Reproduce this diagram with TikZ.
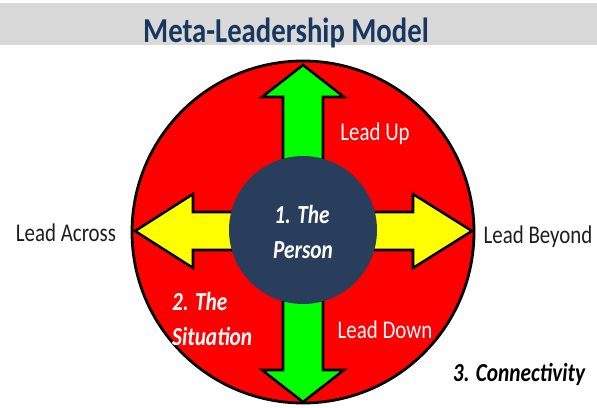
\documentclass[tikz,border=0pt]{standalone}
\usepackage{graphicx}
\usepackage{fontspec}
\setmainfont{Carlito}
\definecolor{bargray}{RGB}{217,217,217}
\definecolor{titleblue}{RGB}{23,55,94}
\definecolor{ringred}{RGB}{255,0,0}
\definecolor{upgreen}{RGB}{0,255,0}
\definecolor{sideyellow}{RGB}{255,255,0}
\definecolor{corenavy}{RGB}{41,62,92}
\definecolor{inkgray}{RGB}{30,30,30}
% condensed lettering
\newcommand{\cond}[1]{\scalebox{0.82}[1]{#1}}
\tikzset{
  arrowshape/.style={draw=black, line width=2.6pt, line join=miter},
  label/.style={font=\fontsize{25.5}{30}\selectfont, anchor=base, inner sep=0pt},
  whitelabel/.style={label, text=white},
  emph/.style={font=\fontsize{26}{30}\selectfont\bfseries\itshape, anchor=base, inner sep=0pt}
}
\begin{document}
\begin{tikzpicture}[x=1pt,y=-1pt]
\useasboundingbox (0,0) rectangle (597,407);

% title band
\fill[bargray] (0,3) rectangle (597,45);
\node[anchor=base, inner sep=0pt, text=titleblue,
      font=\fontsize{35}{38}\selectfont\bfseries] (title) at (286,42) {\cond{Meta-Leadership Model}};

% outer ring
\node[circle, draw=black, line width=2.8pt, fill=ringred, minimum size=342pt, inner sep=0pt] (ring) at (303,232) {};

% four arrows
\draw[arrowshape, fill=upgreen]
  (283,232) -- (283,97) -- (262,97) -- (303,65) -- (344,97) -- (323,97) -- (323,232) -- cycle;
\draw[arrowshape, fill=upgreen]
  (283,232) -- (283,370) -- (262,370) -- (303,402) -- (344,370) -- (323,370) -- (323,232) -- cycle;
\draw[arrowshape, fill=sideyellow]
  (303,212) -- (193,212) -- (193,194) -- (135,231) -- (193,268) -- (193,250) -- (303,250) -- cycle;
\draw[arrowshape, fill=sideyellow]
  (303,212) -- (413,212) -- (413,194) -- (472,231) -- (413,268) -- (413,250) -- (303,250) -- cycle;

% centre disc
\node[circle, fill=corenavy, minimum size=148pt, inner sep=0pt] (core) at (303,230) {};

% labels
\node[emph, text=white] (person1) at (302,223) {\cond{1. The}};
\node[emph, text=white] (person2) at (303,258) {\cond{Person}};
\node[emph, text=white, anchor=base west] (situation1) at (172,310) {\cond{2. The}};
\node[emph, text=white, anchor=base west] (situation2) at (172,345) {\cond{Situation}};
\node[whitelabel] (up) at (375,140) {\cond{Lead Up}};
\node[whitelabel] (down) at (385,338) {\cond{Lead Down}};
\node[label, text=inkgray] (across) at (66,241) {\cond{Lead Across}};
\node[label, text=inkgray] (beyond) at (538,243) {\cond{Lead Beyond}};
\node[emph, text=black] (connect) at (519,381) {\cond{3. Connectivity}};
\end{tikzpicture}
\end{document}
